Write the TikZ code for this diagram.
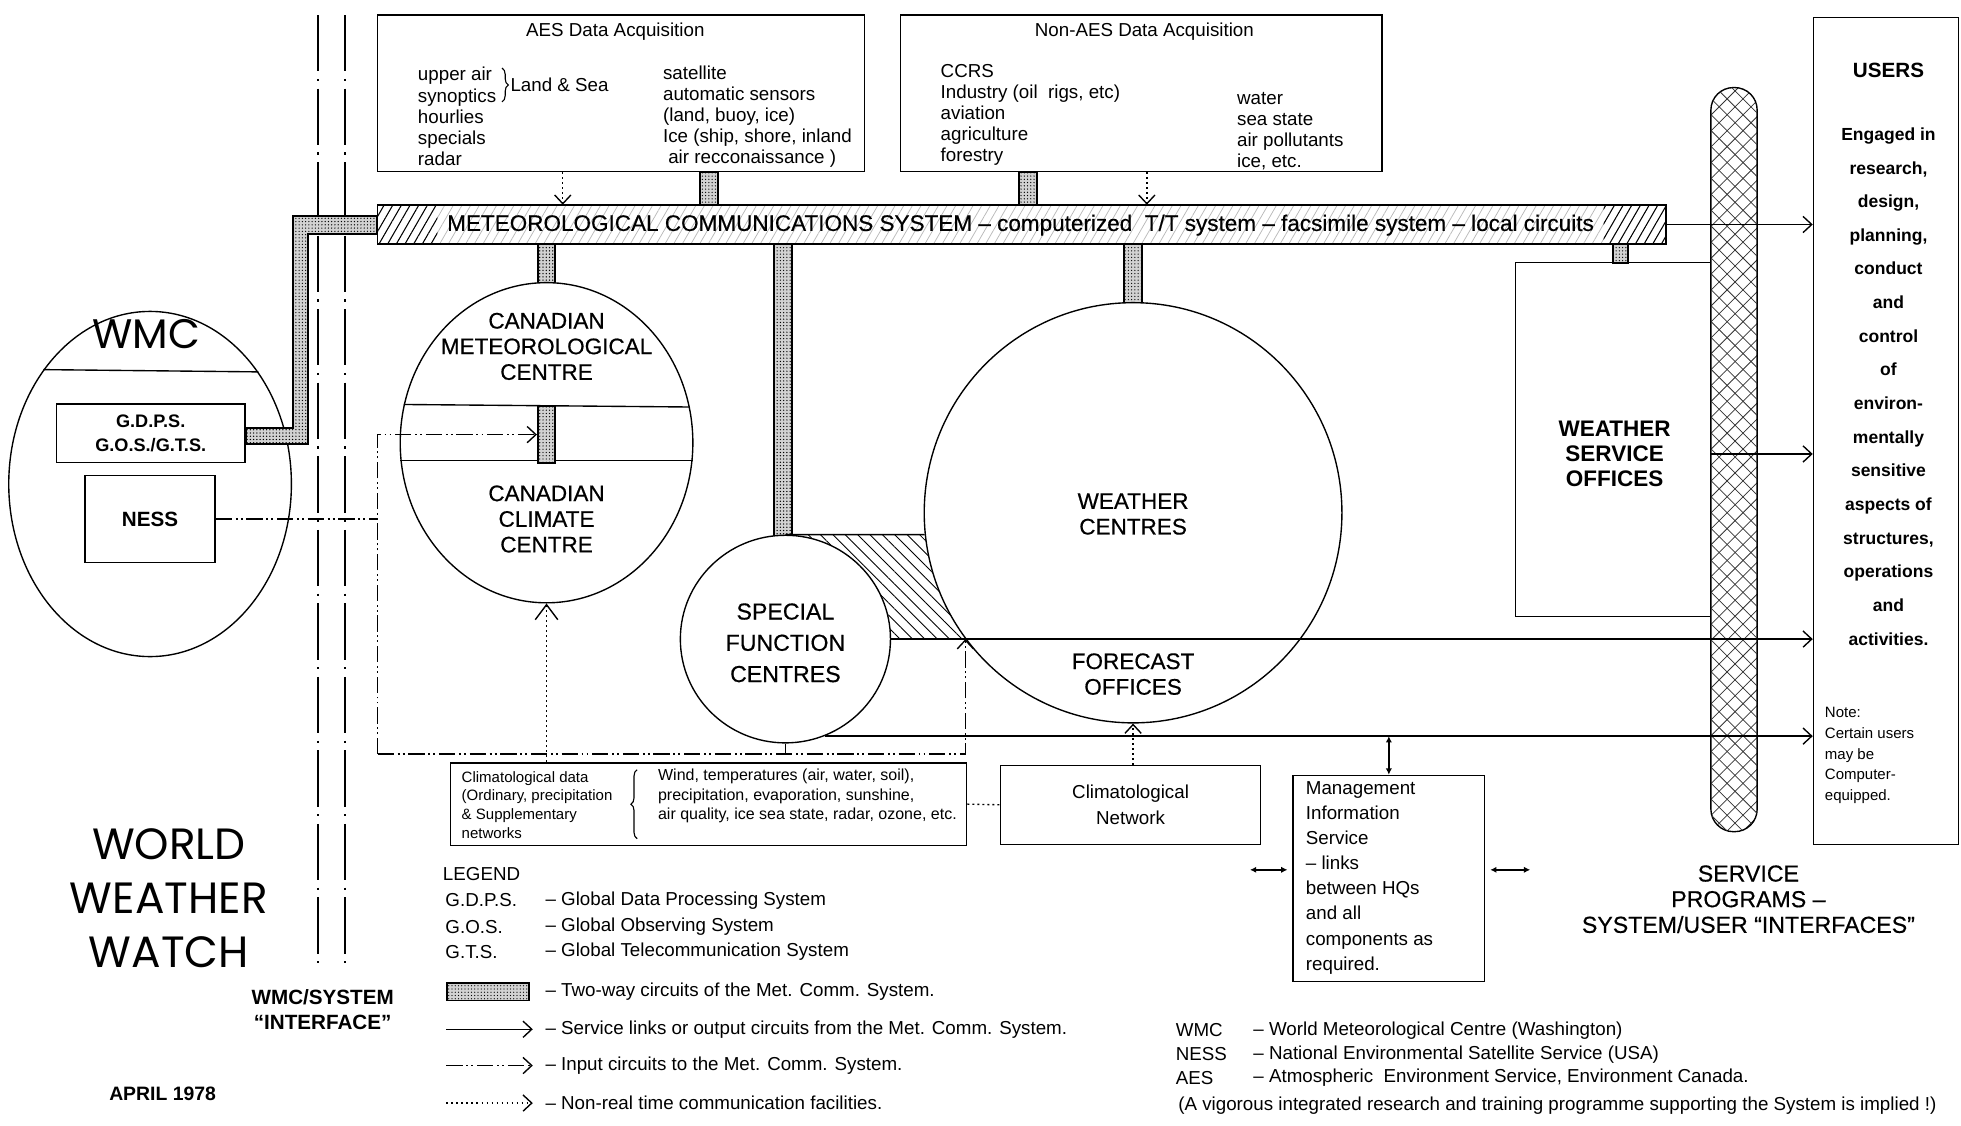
\documentclass[tikz,border=0pt]{standalone}
\usepackage{fontspec}
\setmainfont{Liberation Sans}
\newfontfamily\medfont{Liberation Sans}[Ligatures=TeX, FakeBold=0.5]
\newfontfamily\geofont{Poppins}
\usetikzlibrary{arrows.meta,positioning,shapes.geometric,patterns.meta,calc,decorations.pathreplacing}

\begin{document}
\begin{tikzpicture}[
  x=1pt, y=-1pt,
  >={Straight Barb[length=7pt,width=13pt]},
  box/.style={rectangle, draw, line width=1.1pt, inner sep=0pt},
  centre/.style={ellipse, draw, line width=1.1pt, fill=white, inner sep=0pt},
  txt/.style={inner sep=0pt, align=left, font=\fontsize{15}{16.8}\selectfont},
  caps/.style={inner sep=0pt, align=center, font=\medfont\fontsize{18}{20.5}\selectfont},
  twoway/.style={draw, line width=1.4pt, fill=gray!35,
    postaction={pattern={Dots[distance=2.6pt, radius=0.55pt]}}},
  svc/.style={->, line width=1.1pt},
  inp/.style={->, line width=1.1pt,
    dash pattern=on 13pt off 3pt on 1.5pt off 2.5pt on 1.5pt off 3pt},
  nrt/.style={->, line width=1.1pt, dash pattern=on 1.5pt off 2.5pt},
  iface/.style={line width=1.8pt, dash pattern=on 45pt off 6pt on 1.8pt off 6pt},
  misarr/.style={{Latex[length=5pt,width=5pt]}-{Latex[length=5pt,width=5pt]}, line width=1.4pt},
  curly/.style={line width=0.9pt, decorate, decoration={brace, amplitude=5pt}},
]
\useasboundingbox (0,0) rectangle (1568,900);

%% WMC/System interface
\draw[iface] (254,12) -- (254,770);
\draw[iface] (276,12) -- (276,770);

%% Data acquisition boxes
\node[box, minimum width=389pt, minimum height=125pt] (aes) at (496.5,74.5) {};
\node[txt, anchor=north] (aesT) at (492,18) {AES Data Acquisition};
\node[txt, anchor=west] (aesL) at (334,93) {upper air\\synoptics\\hourlies\\specials\\radar};
\draw[curly] ($(aes.north west)+(100,43)$) -- ($(aes.north west)+(100,70)$);
\node[txt, anchor=west] (aesLS) at (408,68) {Land \& Sea};
\node[txt, anchor=west] (aesR) at (530,93) {satellite\\automatic sensors\\(land, buoy, ice)\\Ice (ship, shore, inland\\\ air recconaissance )};

\node[box, minimum width=385pt, minimum height=125pt] (naes) at (912.5,74.5) {};
\node[txt, anchor=north] (naesT) at (915,18) {Non-AES Data Acquisition};
\node[txt, anchor=west] (naesL) at (752,92) {CCRS\\Industry (oil\ \ rigs, etc)\\aviation\\agriculture\\forestry};
\node[txt, anchor=west] (naesR) at (989,105) {water\\sea state\\air pollutants\\ice, etc.};

%% Met. Comm. System bar
\node[box, minimum width=1030pt, minimum height=31pt,
  pattern={Lines[angle=60,distance=6pt,line width=0.6pt]}, pattern color=gray!55] (mcs) at (817,179.5) {};
\fill[pattern={Lines[angle=60,distance=6pt,line width=0.8pt]}] (mcs.north west) rectangle ([xshift=48pt]mcs.south west);
\fill[pattern={Lines[angle=60,distance=6pt,line width=0.8pt]}] (mcs.north east) rectangle ([xshift=-50pt]mcs.south east);
\draw[line width=1.1pt] (mcs.north west) rectangle (mcs.south east);
\node[font=\medfont\fontsize{18}{20}\selectfont, inner sep=0pt] (mcsT) at (816,180)
  {METEOROLOGICAL COMMUNICATIONS SYSTEM -- computerized\ \ T/T system -- facsimile system -- local circuits};

%% Users and service programs
\node[box, minimum width=116pt, minimum height=661pt] (users) at (1508,344.5) {};
\node[font=\fontsize{16.5}{20}\selectfont\bfseries, inner sep=0pt] (usersT) at (1510,56) {USERS};
\node[align=center, font=\fontsize{14}{26.9}\selectfont\bfseries, inner sep=0pt] (usersL) at (1510,309)
  {Engaged in\\research,\\design,\\planning,\\conduct\\and\\control\\of\\environ-\\mentally\\sensitive\\aspects of\\structures,\\operations\\and\\activities.};
\node[txt, font=\fontsize{12}{16.75}\selectfont, anchor=west] (note) at (1459,604)
  {Note:\\Certain users\\may be\\Computer-\\equipped.};

\node[draw, line width=1.1pt, rounded corners=18pt, minimum width=37pt, minimum height=595pt, inner sep=0pt,
  pattern={Lines[angle=45,distance=9pt,line width=0.6pt]}, pattern color=black!80,
  postaction={pattern={Lines[angle=-45,distance=9pt,line width=0.6pt]}, pattern color=black!80}] (svp) at (1386.5,367.5) {};

\node[caps, font=\fontsize{18}{20}\selectfont\bfseries] (wso) at (1291,363) {WEATHER\\SERVICE\\OFFICES};
\draw[line width=1.1pt] (svp.west |- 0,210) -| (1212,493) -- (svp.west |- 0,493);

%% Hatched link between special function centres and weather centres
\fill[pattern={Lines[angle=-45,distance=7pt,line width=0.7pt]}] (628,428) rectangle (780,511);

%% Two-way circuits
\draw[twoway] (aes.south -| 560,0) rectangle (mcs.north -| 574,0);
\draw[twoway] (naes.south -| 815,0) rectangle (mcs.north -| 829,0);
\draw[twoway] (mcs.south -| 430,0) rectangle (444,232);
\draw[twoway] (mcs.south -| 619,0) rectangle (633,434);
\draw[twoway] (mcs.south -| 899,0) rectangle (913,248);
\draw[twoway] (mcs.south -| 1290,0) rectangle (1302,210);

%% Centres
\node[centre, minimum width=226pt, minimum height=276pt] (wmc) at (120,387) {};
\draw[line width=1.1pt] (wmc.133.6) -- (wmc.46.4);
\node[font=\geofont\fontsize{33}{33}\selectfont, inner sep=0pt] (wmcT) at (117,267) {WMC};
\node[box, minimum width=151pt, minimum height=47pt, align=center,
  font=\fontsize{14.5}{19}\selectfont\bfseries] (gdps) at (120.5,346.5) {G.D.P.S.\\G.O.S./G.T.S.};
\node[box, minimum width=104pt, minimum height=70pt, font=\fontsize{16.5}{16}\selectfont\bfseries] (ness) at (120,415) {NESS};
\draw[twoway] (gdps.east |- 0,342) -| (234,173) -- (mcs.west |- 0,173)
  -- (mcs.west |- 0,187) -| (246,355) -- (gdps.east |- 0,355) -- cycle;

\node[centre, minimum width=234pt, minimum height=256pt] (cmc) at (437,354) {};
\draw[line width=1.1pt] (cmc.165.7) -- (cmc.14.3);
\draw[line width=1.1pt] (cmc.187.9) -- (cmc.-7.9);
\node[twoway, minimum width=14pt, minimum height=45pt, inner sep=0pt] (cmcbar) at (437,347.5) {};
\node[caps] (cmcT) at (437,277) {CANADIAN\\METEOROLOGICAL\\CENTRE};
\node[caps] (cccT) at (437,415) {CANADIAN\\CLIMATE\\CENTRE};

\node[centre, minimum width=168pt, minimum height=166pt] (sfc) at (628,511) {};
\node[caps, font=\medfont\fontsize{18.5}{25}\selectfont] (sfcT) at (628,514) {SPECIAL\\FUNCTION\\CENTRES};

\node[centre, minimum width=334pt, minimum height=336pt] (wc) at (906,410) {};
\node[caps] (wcT) at (906,411) {WEATHER\\CENTRES};
\node[caps] (foT) at (906,539) {FORECAST\\OFFICES};
\draw[line width=1.1pt] (sfc.north) -- (wc.186);

%% Service links to users
\draw[svc] (mcs.east) -- (mcs.east -| users.west);
\draw[svc] (wso.east -| svp.west) -- (wso.east -| users.west);
\draw[svc] (sfc.east) -- (sfc.east -| users.west);
\coordinate (fo) at (sfc.-68);
\draw[svc] (fo) -- (fo -| users.west);

%% Climatological data
\node[box, minimum width=413pt, minimum height=66pt] (climdata) at (566.5,643) {};
\node[txt, font=\fontsize{12}{15}\selectfont, anchor=west] (cdL) at (369,643.5)
  {Climatological data\\(Ordinary, precipitation\\\& Supplementary\\networks};
\draw[curly] ($(climdata.south west)+(150,-6)$) -- ($(climdata.north west)+(150,6)$);
\node[txt, font=\fontsize{12.8}{15.5}\selectfont, anchor=west] (cdR) at (526,636.5)
  {Wind, temperatures (air, water, soil),\\precipitation, evaporation, sunshine,\\air quality, ice sea state, radar, ozone, etc.};
\node[box, minimum width=208pt, minimum height=63pt, align=center,
  font=\fontsize{15}{20}\selectfont] (climnet) at (904,643.5) {Climatological\\Network};

%% Input circuits
\coordinate (jn) at (302,603);
\draw[inp] (jn) |- (cmcbar.west);
\draw[inp] (jn) -| (wc.217);
\draw[inp, -] (ness.east) -- (ness.east -| jn);
\draw[line width=1.1pt] (sfc.south) -- (sfc.south |- jn);

%% Non-real time links
\draw[nrt] (aes.south -| 450,0) -- (mcs.north -| 450,0);
\draw[nrt] (naes.south -| 917,0) -- (mcs.north -| 917,0);
\draw[line width=1.1pt, dash pattern=on 1.5pt off 2.5pt, -{Straight Barb[length=12pt,width=18pt]}]
  (climdata.north -| cmc.south) -- (cmc.south);
\draw[nrt] (climnet.north -| wc.south) -- (wc.south);
\draw[nrt, -] (climdata.east) -- (climnet.west);

%% Management information service
\node[box, minimum width=153pt, minimum height=165pt] (mis) at (1110.5,702.5) {};
\node[txt, anchor=west, font=\fontsize{15}{20}\selectfont] (misT) at (1044,702)
  {Management\\Information\\Service\\-- links\\between HQs\\and all\\components as\\required.};
\draw[misarr] (mis.north) -- (mis.north |- fo);
\draw[misarr] ($(mis.west)+(-34,-7)$) -- ($(mis.west)+(-4,-7)$);
\draw[misarr] ($(mis.east)+(4,-7)$) -- ($(mis.east)+(36,-7)$);

%% Titles
\node[font=\geofont\fontsize{35}{43}\selectfont, align=center, inner sep=0pt] (www) at (135,718) {WORLD\\WEATHER\\WATCH};
\node[font=\fontsize{16.5}{20}\selectfont\bfseries, align=center, inner sep=0pt] (wmcsys) at (258,807) {WMC/SYSTEM\\``INTERFACE''};
\node[font=\fontsize{15.5}{15}\selectfont\bfseries, inner sep=0pt] (date) at (130,875) {APRIL 1978};
\node[font=\medfont\fontsize{18.5}{20.5}\selectfont, align=center, inner sep=0pt] (svcprog) at (1398,719)
  {SERVICE\\PROGRAMS --\\SYSTEM/USER ``INTERFACES''};

%% Legend
\node[txt, anchor=west] (legT) at (354,699) {LEGEND};
\node[txt, anchor=west] (lg1) at (356,720) {G.D.P.S.};
\node[txt, anchor=west] (lg1d) at (436,720) {-- Global Data Processing System};
\node[txt, anchor=west] (lg2) at (356,741) {G.O.S.};
\node[txt, anchor=west] (lg2d) at (436,741) {-- Global Observing System};
\node[txt, anchor=west] (lg3) at (356,761) {G.T.S.};
\node[txt, anchor=west] (lg3d) at (436,761) {-- Global Telecommunication System};
\node[twoway, minimum width=65pt, minimum height=14pt, inner sep=0pt, anchor=west] (lgbox) at (357,793) {};
\node[txt, anchor=west] (lg4d) at (436,793) {-- Two-way circuits of the Met. Comm. System.};
\node[txt, anchor=west] (lg5d) at (436,823) {-- Service links or output circuits from the Met. Comm. System.};
\node[txt, anchor=west] (lg6d) at (436,852) {-- Input circuits to the Met. Comm. System.};
\node[txt, anchor=west] (lg7d) at (436,882) {-- Non-real time communication facilities.};
\draw[svc] (lg5d.west -| lgbox.west) -- ([xshift=-10pt]lg5d.west);
\draw[inp] (lg6d.west -| lgbox.west) -- ([xshift=-10pt]lg6d.west);
\draw[nrt] (lg7d.west -| lgbox.west) -- ([xshift=-10pt]lg7d.west);

%% Abbreviations
\node[txt, anchor=west] (abW) at (940,824) {WMC};
\node[txt, anchor=west] (abWd) at (1002,824) {-- World Meteorological Centre (Washington)};
\node[txt, anchor=west] (abN) at (940,843) {NESS};
\node[txt, anchor=west] (abNd) at (1002,843) {-- National Environmental Satellite Service (USA)};
\node[txt, anchor=west] (abA) at (940,862) {AES};
\node[txt, anchor=west] (abAd) at (1002,862) {-- Atmospheric\ \ Environment Service, Environment Canada.};
\node[txt, anchor=west] (abNote) at (942,884)
  {(A vigorous integrated research and training programme supporting the System is implied !)};

\end{tikzpicture}
\end{document}
